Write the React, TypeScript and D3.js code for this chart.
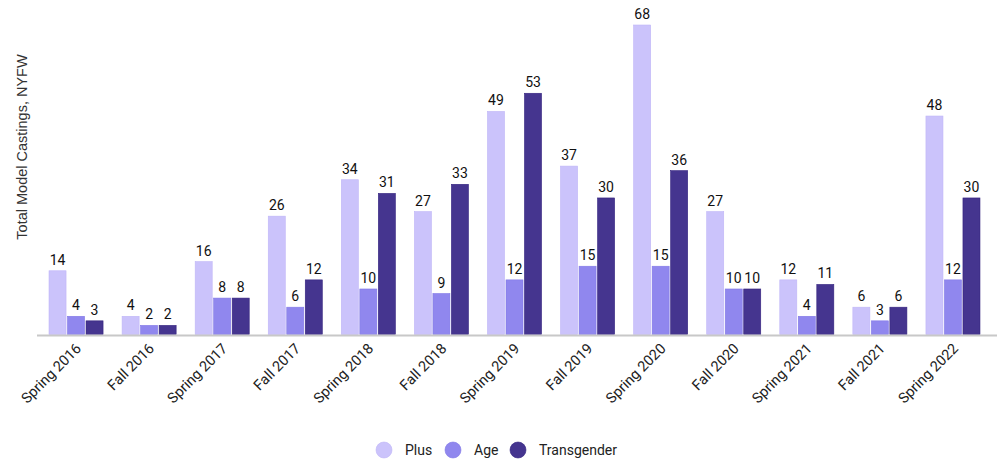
import React from "react";
import * as d3 from "d3";

const categories = ["Spring 2016","Fall 2016","Spring 2017","Fall 2017","Spring 2018","Fall 2018","Spring 2019","Fall 2019","Spring 2020","Fall 2020","Spring 2021","Fall 2021","Spring 2022"];
const plus = [14,4,16,26,34,27,49,37,68,27,12,6,48];
const age = [4,2,8,6,10,9,12,15,15,10,4,3,12];
const transgender = [3,2,8,12,31,33,53,30,36,10,11,6,30];
const seriesNames = ["Plus","Age","Transgender"];
const seriesColors = ["#cbc3fb","#9087ee","#45358f"];
const seriesStrokes = ["#bfb5f7","#8178e6","#33227f"];

export default function App() {
  const W = 1000, H = 464;
  const baseY = 334.5;
  const x0 = d3.scaleBand<string>().domain(categories).range([39.5, 989.5]).paddingInner(0.22).paddingOuter(0.11);
  const x1 = d3.scaleBand<string>().domain(seriesNames).range([0, x0.bandwidth()]).padding(0.08);
  const y = d3.scaleLinear().domain([0, 68]).range([baseY, 25]);
  const data = [plus, age, transgender];
  const font = "Roboto, 'Noto Sans', sans-serif";
  const legendX = [384, 453, 518];
  return (
    <svg width={W} height={H} style={{ position: "absolute", left: 0, top: 0, background: "#fff" }} fontFamily={font}>
      <text transform={`translate(27,147) rotate(-90)`} textAnchor="middle" fontSize={14.5} fill="#333" fontFamily="'Liberation Sans', Arial, sans-serif">Total Model Castings, NYFW</text>
      {categories.map((c, i) => (
        <g key={c} transform={`translate(${x0(c)},0)`}>
          {seriesNames.map((s, j) => {
            const v = data[j][i];
            const bx = x1(s)!;
            const bw = x1.bandwidth();
            return (
              <g key={s}>
                <rect x={bx} y={y(v)} width={bw} height={baseY - y(v)} fill={seriesColors[j]} stroke={seriesStrokes[j]} strokeWidth={0.6} />
                <text x={bx + bw / 2} y={y(v) - 6} textAnchor="middle" fontSize={14} fill="#111">{v}</text>
              </g>
            );
          })}
        </g>
      ))}
      <line x1={37} x2={997} y1={baseY + 1} y2={baseY + 1} stroke="#c8c8c8" strokeWidth={2} />
      {categories.map((c) => {
        const cx = x0(c)! + x0.bandwidth() / 2;
        return (
          <text key={c} transform={`translate(${cx + 6},${baseY + 15}) rotate(-45)`} textAnchor="end" fontSize={14.5} fill="#222">{c}</text>
        );
      })}
      {seriesNames.map((s, j) => (
        <g key={s}>
          <circle cx={legendX[j]} cy={450} r={8} fill={seriesColors[j]} stroke={seriesStrokes[j]} strokeWidth={0.6} />
          <text x={legendX[j] + 21} y={455} fontSize={14} fill="#222">{s}</text>
        </g>
      ))}
    </svg>
  );
}
